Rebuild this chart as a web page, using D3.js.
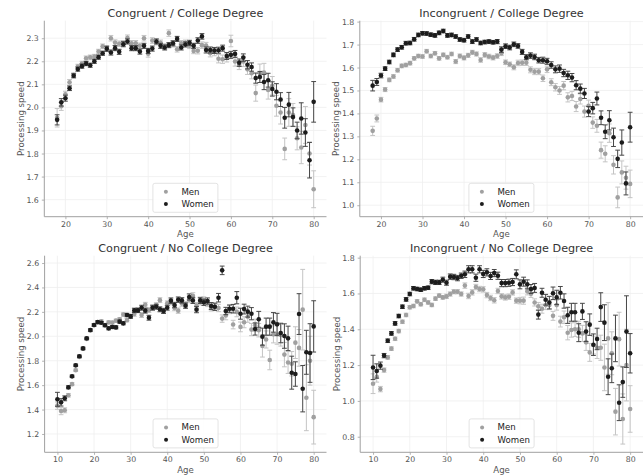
<!DOCTYPE html>
<html>
<head>
<meta charset="utf-8">
<script src="https://cdn.jsdelivr.net/npm/d3@7"></script>
<style>
  body { margin: 0; background: #fff; }
  svg { display: block; }
  text { font-family: "DejaVu Sans", sans-serif; }
</style>
</head>
<body>
<svg id="chart" width="643" height="476"></svg>
<script>
// Ages
const agesCollege = [18,19,20,21,22,23,24,25,26,27,28,29,30,31,32,33,34,35,36,37,38,39,40,41,42,43,44,45,46,47,48,49,
  50,51,52,53,54,55,56,57,58,59,60,61,62,63,64,65,66,67,68,69,70,71,72,73,74,75,76,77,78,79,80];
const agesNoCollege = [10,11,12,13,14,15,16,17,18,19,20,21,22,23,24,25,26,27,28,29,30,31,32,33,34,35,36,37,38,39,
  40,41,42,43,44,45,46,47,48,49,50,51,52,53,54,55,56,57,58,59,60,61,62,63,64,65,66,67,68,69,70,71,72,73,74,75,76,77,78,79,80];

// Congruent / College Degree
const congCollegeWomen = [1.946,2.022,2.040,2.083,2.137,2.166,2.179,2.190,2.183,2.200,
  2.218,2.235,2.254,2.238,2.257,2.241,2.274,2.286,2.257,2.257,
  2.242,2.267,2.245,2.255,2.286,2.267,2.260,2.270,2.278,2.297,
  2.260,2.273,2.280,2.267,2.290,2.308,2.249,2.249,2.247,2.248,
  2.257,2.223,2.228,2.232,2.194,2.216,2.185,2.175,2.127,2.132,
  2.110,2.118,2.080,2.068,2.034,1.955,2.012,1.958,1.900,1.952,
  1.891,1.771,2.024];
const congCollegeWomenErr = [.022,.016,.013,.010,.009,.009,.009,.009,.009,.009,
  .009,.009,.011,.011,.011,.011,.011,.011,.011,.011,
  .011,.011,.011,.011,.011,.011,.011,.011,.011,.011,
  .011,.011,.011,.011,.012,.012,.013,.013,.013,.013,
  .013,.015,.015,.015,.016,.016,.018,.018,.022,.024,
  .033,.030,.031,.035,.030,.045,.053,.040,.036,.068,
  .060,.077,.088];
const congCollegeMen = [1.955,2.005,2.057,2.109,2.140,2.177,2.190,2.213,2.217,2.220,
  2.242,2.265,2.258,2.300,2.281,2.276,2.278,2.302,2.278,2.278,
  2.267,2.300,2.233,2.290,2.283,2.280,2.264,2.322,2.274,2.252,
  2.278,2.280,2.267,2.245,2.246,2.270,2.268,2.235,2.240,2.211,
  2.209,2.215,2.288,2.199,2.184,2.199,2.165,2.148,2.062,2.148,
  2.151,2.076,2.094,2.007,1.978,1.820,1.978,1.967,1.866,1.826,
  1.924,1.800,1.645];
const congCollegeMenErr = [.040,.018,.013,.012,.010,.010,.010,.010,.010,.010,
  .010,.010,.010,.012,.012,.012,.012,.012,.012,.012,
  .012,.012,.015,.012,.012,.012,.012,.014,.012,.012,
  .012,.012,.012,.012,.014,.014,.014,.016,.016,.018,
  .018,.018,.025,.020,.020,.022,.022,.024,.035,.040,
  .040,.040,.040,.045,.050,.047,.060,.050,.050,.070,
  .080,.050,.080];

// Incongruent / College Degree
const incongCollegeWomen = [1.521,1.537,1.565,1.595,1.624,1.655,1.678,1.688,1.706,1.707,
  1.723,1.742,1.749,1.748,1.743,1.740,1.751,1.759,1.740,1.742,
  1.735,1.722,1.719,1.735,1.713,1.722,1.707,1.711,1.713,1.710,
  1.713,1.678,1.693,1.687,1.701,1.694,1.668,1.645,1.652,1.646,
  1.632,1.632,1.627,1.611,1.592,1.595,1.576,1.566,1.556,1.523,
  1.508,1.487,1.408,1.423,1.465,1.381,1.320,1.370,1.296,1.202,
  1.273,1.095,1.340];
const incongCollegeWomenErr = [.023,.015,.010,.008,.008,.008,.008,.008,.008,.008,
  .008,.008,.008,.008,.008,.008,.008,.008,.008,.008,
  .008,.008,.008,.008,.008,.008,.008,.008,.008,.008,
  .009,.012,.010,.010,.010,.010,.011,.011,.012,.012,
  .012,.013,.013,.014,.015,.016,.016,.018,.018,.020,
  .020,.022,.022,.025,.028,.030,.030,.042,.040,.038,
  .055,.050,.065];
const incongCollegeMen = [1.324,1.378,1.460,1.504,1.546,1.561,1.588,1.607,1.611,1.619,
  1.640,1.650,1.648,1.671,1.650,1.662,1.640,1.655,1.645,1.659,
  1.626,1.650,1.642,1.653,1.666,1.659,1.633,1.655,1.648,1.643,
  1.650,1.662,1.623,1.614,1.601,1.620,1.621,1.621,1.590,1.582,
  1.582,1.553,1.592,1.536,1.514,1.500,1.521,1.470,1.476,1.430,
  1.463,1.408,1.433,1.360,1.346,1.240,1.224,1.314,1.176,1.034,
  1.143,1.120,1.093];
const incongCollegeMenErr = [.020,.015,.010,.009,.008,.008,.008,.008,.008,.008,
  .008,.008,.008,.008,.008,.008,.008,.008,.008,.008,
  .009,.009,.009,.009,.009,.009,.010,.010,.010,.010,
  .010,.010,.010,.010,.011,.012,.012,.012,.013,.013,
  .013,.014,.014,.015,.016,.017,.018,.020,.020,.022,
  .022,.024,.025,.025,.028,.035,.035,.040,.040,.045,
  .050,.050,.060];

// Congruent / No College Degree
const congNoCollegeWomen = [1.484,1.459,1.492,1.582,1.672,1.762,1.836,1.901,1.983,2.051,
  2.092,2.117,2.111,2.090,2.065,2.076,2.073,2.120,2.106,2.174,
  2.163,2.212,2.212,2.234,2.210,2.152,2.234,2.242,2.221,2.207,
  2.234,2.292,2.256,2.300,2.294,2.251,2.322,2.294,2.218,2.294,
  2.278,2.289,2.248,2.242,2.316,2.540,2.207,2.226,2.226,2.316,
  2.185,2.223,2.202,2.185,2.060,2.139,1.997,2.079,2.079,2.114,
  2.098,2.027,2.002,1.983,1.702,1.691,2.182,1.571,1.869,1.863,
  2.081];
const congNoCollegeWomenErr = [.057,.030,.020,.012,.010,.010,.010,.010,.010,.010,
  .010,.010,.010,.012,.012,.012,.012,.012,.012,.014,
  .015,.018,.018,.020,.020,.020,.020,.020,.020,.020,
  .020,.022,.022,.022,.022,.022,.025,.025,.025,.025,
  .025,.025,.028,.030,.035,.035,.030,.030,.035,.050,
  .045,.040,.045,.050,.050,.065,.070,.070,.070,.080,
  .090,.080,.100,.100,.135,.100,.167,.190,.180,.240,
  .210];
const congNoCollegeMen = [1.432,1.388,1.394,1.517,1.608,1.722,1.830,1.898,1.978,2.048,
  2.090,2.113,2.122,2.092,2.114,2.112,2.128,2.140,2.178,2.132,
  2.165,2.182,2.215,2.174,2.258,2.215,2.237,2.255,2.296,2.212,
  2.270,2.280,2.232,2.210,2.268,2.262,2.300,2.332,2.252,2.282,
  2.298,2.268,2.232,2.240,2.232,2.145,2.170,2.220,2.096,2.200,
  2.077,2.115,2.160,2.055,2.090,2.050,1.920,1.974,1.806,2.016,
  2.015,2.010,1.850,1.786,1.775,1.948,1.905,2.218,1.497,1.800,
  1.338];
const congNoCollegeMenErr = [.030,.030,.020,.015,.012,.010,.010,.010,.010,.010,
  .010,.012,.012,.012,.012,.012,.012,.012,.014,.014,
  .015,.018,.018,.020,.020,.020,.020,.020,.020,.020,
  .020,.022,.022,.022,.022,.022,.025,.025,.025,.025,
  .025,.025,.025,.028,.030,.030,.035,.035,.035,.040,
  .040,.045,.045,.050,.050,.055,.090,.070,.080,.070,
  .080,.090,.100,.090,.100,.130,.150,.330,.270,.200,
  .220];

// Incongruent / No College Degree
const incongNoCollegeWomen = [1.187,1.167,1.197,1.253,1.336,1.377,1.433,1.474,1.526,1.567,
  1.597,1.629,1.625,1.621,1.629,1.632,1.666,1.662,1.662,1.677,
  1.660,1.694,1.692,1.686,1.699,1.707,1.735,1.735,1.688,1.735,
  1.709,1.718,1.698,1.714,1.699,1.658,1.658,1.660,1.664,1.707,
  1.651,1.666,1.651,1.625,1.631,1.482,1.604,1.565,1.549,1.601,
  1.578,1.604,1.558,1.478,1.495,1.495,1.381,1.500,1.387,1.426,
  1.314,1.346,1.524,1.437,1.135,1.182,1.349,0.990,1.105,1.387,
  1.266];
const incongNoCollegeWomenErr = [.068,.040,.020,.012,.010,.010,.010,.010,.010,.010,
  .010,.010,.010,.010,.010,.010,.012,.012,.012,.014,
  .014,.015,.015,.015,.015,.018,.020,.020,.020,.020,
  .020,.020,.020,.020,.020,.020,.020,.020,.020,.025,
  .025,.025,.025,.025,.025,.025,.025,.030,.035,.035,
  .040,.035,.040,.045,.050,.050,.050,.045,.055,.060,
  .060,.060,.080,.100,.100,.080,.130,.100,.085,.200,
  .110];
const incongNoCollegeMen = [1.096,1.135,1.066,1.172,1.243,1.292,1.347,1.390,1.442,1.480,
  1.523,1.530,1.556,1.540,1.565,1.550,1.536,1.571,1.588,1.578,
  1.584,1.597,1.610,1.610,1.597,1.644,1.586,1.606,1.636,1.625,
  1.623,1.591,1.575,1.562,1.614,1.584,1.578,1.582,1.606,1.560,
  1.560,1.560,1.612,1.598,1.550,1.528,1.515,1.535,1.535,1.475,
  1.535,1.443,1.467,1.381,1.396,1.400,1.400,1.377,1.327,1.271,
  1.312,1.297,1.297,1.187,1.349,1.266,0.940,1.345,0.899,1.200,
  0.955];
const incongNoCollegeMenErr = [.055,.030,.015,.012,.010,.010,.010,.010,.010,.010,
  .010,.010,.010,.010,.010,.010,.010,.010,.010,.010,
  .012,.012,.012,.012,.012,.015,.015,.015,.015,.015,
  .015,.015,.015,.015,.015,.015,.015,.015,.015,.015,
  .018,.020,.020,.020,.020,.022,.025,.025,.025,.025,
  .028,.030,.035,.040,.040,.040,.045,.045,.045,.050,
  .050,.060,.070,.130,.200,.120,.130,.150,.140,.200,
  .130];

// Tick values
const xTicksCollege = [20, 30, 40, 50, 60, 70, 80];
const xTicksNoCollege = [10, 20, 30, 40, 50, 60, 70, 80];
const yTicksCongCollege = [1.6, 1.7, 1.8, 1.9, 2.0, 2.1, 2.2, 2.3];
const yTicksIncongCollege = [1.0, 1.1, 1.2, 1.3, 1.4, 1.5, 1.6, 1.7, 1.8];
const yTicksCongNoCollege = [1.2, 1.4, 1.6, 1.8, 2.0, 2.2, 2.4, 2.6];
const yTicksIncongNoCollege = [0.8, 1.0, 1.2, 1.4, 1.6, 1.8];

const seriesNames = ["Men", "Women"];

// Panel layout
const panels = [
  { title: "Congruent / College Degree", x0: 44.3, x1: 326.5, y0: 20.7, y1: 216.7,
    xDomain: [14.9, 83.1], yDomain: [1.526, 2.376], xTicks: xTicksCollege, yTicks: yTicksCongCollege,
    ages: agesCollege, men: congCollegeMen, menErr: congCollegeMenErr, women: congCollegeWomen, womenErr: congCollegeWomenErr },
  { title: "Incongruent / College Degree", x0: 359.8, x1: 643, y0: 20.7, y1: 216.7,
    xDomain: [14.9, 83.1], yDomain: [0.950, 1.804], xTicks: xTicksCollege, yTicks: yTicksIncongCollege,
    ages: agesCollege, men: incongCollegeMen, menErr: incongCollegeMenErr, women: incongCollegeWomen, womenErr: incongCollegeWomenErr },
  { title: "Congruent / No College Degree", x0: 44.6, x1: 326.5, y0: 255.7, y1: 452.3,
    xDomain: [6.5, 83.5], yDomain: [1.050, 2.660], xTicks: xTicksNoCollege, yTicks: yTicksCongNoCollege,
    ages: agesNoCollege, men: congNoCollegeMen, menErr: congNoCollegeMenErr, women: congNoCollegeWomen, womenErr: congNoCollegeWomenErr },
  { title: "Incongruent / No College Degree", x0: 360.2, x1: 643, y0: 255.7, y1: 452.3,
    xDomain: [6.5, 83.5], yDomain: [0.713, 1.811], xTicks: xTicksNoCollege, yTicks: yTicksIncongNoCollege,
    ages: agesNoCollege, men: incongNoCollegeMen, menErr: incongNoCollegeMenErr, women: incongNoCollegeWomen, womenErr: incongNoCollegeWomenErr }
];

const style = {
  men: { dot: "#a0a0a0", bar: "#c4c4c4" },
  women: { dot: "#1c1c1c", bar: "#464646" },
  grid: "#efefef", spine: "#a0a0a0", tickText: "#555", labelText: "#555", title: "#333"
};

const svg = d3.select("#chart");
svg.append("rect").attr("width", 643).attr("height", 476).attr("fill", "#fff");

panels.forEach(p => {
  const x = d3.scaleLinear().domain(p.xDomain).range([p.x0, p.x1]);
  const y = d3.scaleLinear().domain(p.yDomain).range([p.y1, p.y0]);
  const g = svg.append("g");

  // grid
  g.append("g").selectAll("line").data(p.xTicks).join("line")
    .attr("x1", d => x(d)).attr("x2", d => x(d)).attr("y1", p.y0).attr("y2", p.y1)
    .attr("stroke", style.grid).attr("stroke-width", 0.8);
  g.append("g").selectAll("line").data(p.yTicks).join("line")
    .attr("x1", p.x0).attr("x2", p.x1).attr("y1", d => y(d)).attr("y2", d => y(d))
    .attr("stroke", style.grid).attr("stroke-width", 0.8);

  // axes
  const xAxis = g.append("g").attr("transform", `translate(0,${p.y1})`)
    .call(d3.axisBottom(x).tickValues(p.xTicks).tickSize(2.5).tickPadding(2).tickFormat(d3.format("d")));
  const yAxis = g.append("g").attr("transform", `translate(${p.x0},0)`)
    .call(d3.axisLeft(y).tickValues(p.yTicks).tickSize(2.5).tickPadding(3).tickFormat(d3.format(".1f")));
  [xAxis, yAxis].forEach(a => {
    a.select(".domain").remove();
    a.selectAll(".tick line").attr("stroke", style.spine).attr("stroke-width", 0.8);
    a.selectAll(".tick text").attr("fill", style.tickText).attr("font-size", 7.8)
      .attr("font-family", "DejaVu Sans, sans-serif");
  });
  // spines (left and bottom only)
  g.append("line").attr("x1", p.x0).attr("x2", p.x0).attr("y1", p.y0).attr("y2", p.y1)
    .attr("stroke", style.spine).attr("stroke-width", 1);
  g.append("line").attr("x1", p.x0).attr("x2", p.x1).attr("y1", p.y1).attr("y2", p.y1)
    .attr("stroke", style.spine).attr("stroke-width", 1);

  // series
  const series = [
    { key: "men", vals: p.men, errs: p.menErr },
    { key: "women", vals: p.women, errs: p.womenErr }
  ];
  series.forEach(s => {
    const rows = p.ages.map((a, i) => ({ age: a, v: s.vals[i], e: s.errs[i] }));
    const col = style[s.key];
    const eb = g.append("g").attr("stroke", col.bar).attr("stroke-width", 1).attr("fill", "none");
    eb.selectAll("line.v").data(rows).join("line").attr("class", "v")
      .attr("x1", d => x(d.age)).attr("x2", d => x(d.age))
      .attr("y1", d => y(d.v - d.e)).attr("y2", d => y(d.v + d.e));
    eb.selectAll("line.t").data(rows).join("line").attr("class", "t")
      .attr("x1", d => x(d.age) - 2.4).attr("x2", d => x(d.age) + 2.4)
      .attr("y1", d => y(d.v + d.e)).attr("y2", d => y(d.v + d.e));
    eb.selectAll("line.b").data(rows).join("line").attr("class", "b")
      .attr("x1", d => x(d.age) - 2.4).attr("x2", d => x(d.age) + 2.4)
      .attr("y1", d => y(d.v - d.e)).attr("y2", d => y(d.v - d.e));
    g.append("g").selectAll("circle").data(rows).join("circle")
      .attr("cx", d => x(d.age)).attr("cy", d => y(d.v)).attr("r", 2.3)
      .attr("fill", col.dot);
  });

  // title
  const cx = (p.x0 + p.x1) / 2;
  g.append("text").attr("x", cx).attr("y", p.y0 - 4).attr("text-anchor", "middle")
    .attr("font-size", 11.2).attr("fill", style.title).text(p.title);
  // axis labels
  g.append("text").attr("x", cx).attr("y", p.y1 + 20.3).attr("text-anchor", "middle")
    .attr("font-size", 8.6).attr("fill", style.labelText).text("Age");
  g.append("text").attr("transform", `translate(${p.x0 - 20.5},${(p.y0 + p.y1) / 2}) rotate(-90)`)
    .attr("text-anchor", "middle").attr("font-size", 8.6).attr("fill", style.labelText).text("Processing speed");

  // legend (lower center)
  const lw = 65, lh = 29;
  const lx = cx - lw / 2, ly = p.y1 - 4.4 - lh;
  const lg = g.append("g").attr("transform", `translate(${lx},${ly})`);
  lg.append("rect").attr("width", lw).attr("height", lh).attr("rx", 2)
    .attr("fill", "#fff").attr("fill-opacity", 0.85).attr("stroke", "#dcdcdc").attr("stroke-width", 0.8);
  seriesNames.forEach((name, i) => {
    const key = i === 0 ? "men" : "women";
    lg.append("circle").attr("cx", 13).attr("cy", 8.5 + i * 12.3).attr("r", 2).attr("fill", style[key].dot);
    lg.append("text").attr("x", 28.5).attr("y", 8.5 + i * 12.3 + 3).attr("font-size", 8.6)
      .attr("fill", "#222").text(name);
  });
});
</script>
</body>
</html>
